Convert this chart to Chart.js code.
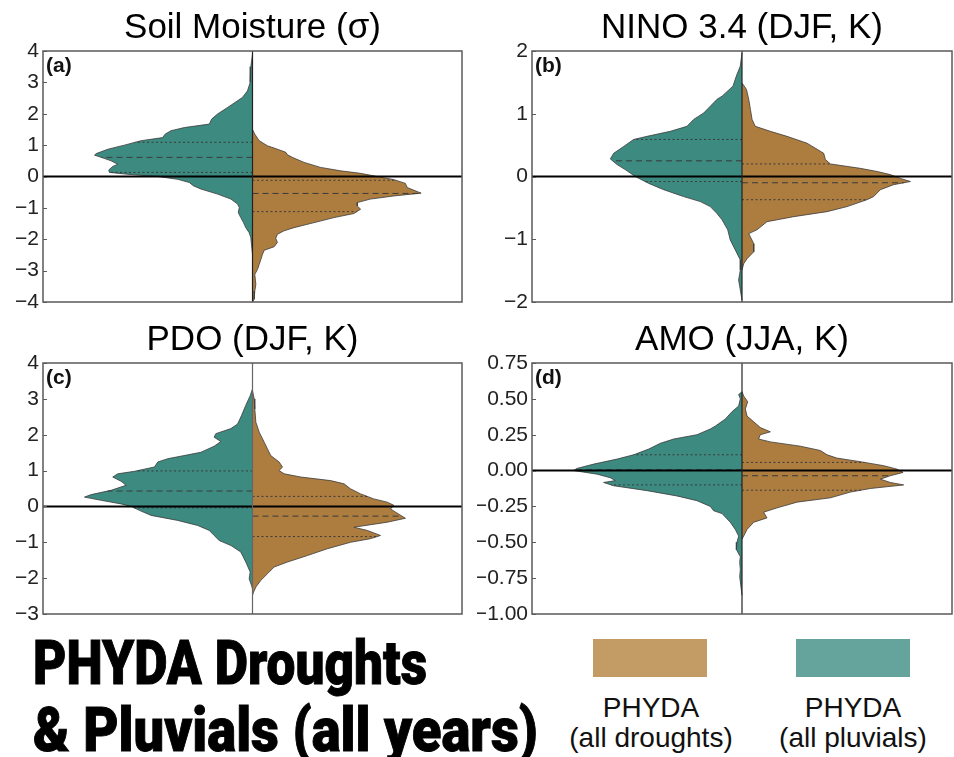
<!DOCTYPE html>
<html>
<head>
<meta charset="utf-8">
<script src="https://cdn.jsdelivr.net/npm/chart.js@4.4.0/dist/chart.umd.min.js"></script>
<style>
  body { margin: 0; background: #fff; width: 954px; height: 757px; position: relative; overflow: hidden; font-family: 'Liberation Sans', Arial, sans-serif; }
  .panel { position: absolute; }
  .big { position: absolute; left: 33px; font-family: Roboto, 'DejaVu Sans', sans-serif; font-weight: 900; font-size: 62px; line-height: 62px; white-space: nowrap; color: #000; transform-origin: 0 0; display: inline-block; -webkit-text-stroke: 1px #000; }
  .box { position: absolute; top: 639px; width: 114px; height: 38px; }
  .leg { position: absolute; width: 220px; text-align: center; font-size: 28px; line-height: 30px; color: #111; }
</style>
</head>
<body>
<div class="panel" style="left:0;top:0"><canvas id="chartA" width="477" height="314"></canvas></div>
<div class="panel" style="left:477px;top:0"><canvas id="chartB" width="477" height="314"></canvas></div>
<div class="panel" style="left:0;top:310px"><canvas id="chartC" width="477" height="316"></canvas></div>
<div class="panel" style="left:477px;top:310px"><canvas id="chartD" width="477" height="316"></canvas></div>

<span class="big" id="big1" style="top:632px">PHYDA Droughts</span>
<span class="big" id="big2" style="top:699px">&amp; Pluvials (all years)</span>

<div class="box" style="left:593px;background:#c29c64"></div>
<div class="box" style="left:796px;background:#64a49d"></div>
<div class="leg" style="left:541px;top:693px">PHYDA<br>(all droughts)</div>
<div class="leg" style="left:743px;top:693px">PHYDA<br>(all pluvials)</div>

<script>
// violin outlines: value (y) and half-width (fraction of the panel half width)
const soilPluvialY = [3.9, 3.5, 3.0, 2.73, 2.52, 2.2, 1.99, 1.83, 1.67, 1.56, 1.46, 1.35, 1.24, 1.14, 1.0, 0.87, 0.73, 0.68, 0.61, 0.5, 0.39, 0.32, 0.21, 0.13, 0.07, 0, -0.09, -0.19, -0.3, -0.4, -0.56, -0.72, -0.88, -0.99, -1.15, -1.31, -1.47, -1.63, -1.79, -1.95, -2.16, -2.48];
const soilPluvialW = [0, 0.008, 0.011, 0.024, 0.048, 0.119, 0.167, 0.195, 0.206, 0.325, 0.389, 0.417, 0.429, 0.532, 0.611, 0.69, 0.746, 0.754, 0.722, 0.675, 0.643, 0.667, 0.686, 0.683, 0.595, 0.452, 0.357, 0.302, 0.281, 0.246, 0.167, 0.103, 0.071, 0.063, 0.068, 0.056, 0.043, 0.032, 0.016, 0.008, 0.005, 0];
const soilDroughtY = [1.5, 1.35, 1.14, 0.98, 0.87, 0.77, 0.69, 0.61, 0.45, 0.29, 0.18, 0.1, 0, -0.1, -0.22, -0.35, -0.48, -0.53, -0.62, -0.72, -0.83, -0.94, -1.04, -1.18, -1.31, -1.47, -1.63, -1.73, -1.84, -1.97, -2.1, -2.24, -2.35, -2.48, -2.64, -2.8, -2.96, -3.12, -3.44, -3.65, -3.91, -4.0];
const soilDroughtW = [0, 0.011, 0.032, 0.071, 0.119, 0.159, 0.167, 0.19, 0.246, 0.325, 0.421, 0.516, 0.595, 0.675, 0.73, 0.738, 0.786, 0.805, 0.675, 0.563, 0.5, 0.5, 0.516, 0.484, 0.389, 0.294, 0.198, 0.151, 0.119, 0.111, 0.119, 0.103, 0.056, 0.048, 0.04, 0.032, 0.024, 0.011, 0.016, 0.011, 0.008, 0];

const ninoPluvialY = [1.97, 1.76, 1.6, 1.44, 1.28, 1.23, 1.12, 1.01, 0.91, 0.8, 0.72, 0.64, 0.59, 0.48, 0.37, 0.28, 0.19, 0.11, 0, -0.11, -0.21, -0.32, -0.4, -0.48, -0.59, -0.69, -0.85, -1.01, -1.17, -1.33, -1.49, -1.65, -1.81, -1.97];
const ninoPluvialW = [0, 0.008, 0.027, 0.043, 0.095, 0.119, 0.151, 0.183, 0.23, 0.262, 0.341, 0.452, 0.516, 0.563, 0.611, 0.627, 0.595, 0.556, 0.508, 0.444, 0.373, 0.278, 0.198, 0.151, 0.119, 0.095, 0.068, 0.056, 0.032, 0.008, 0.008, 0.016, 0.008, 0];
const ninoDroughtY = [1.49, 1.39, 1.23, 1.07, 0.91, 0.8, 0.72, 0.64, 0.53, 0.37, 0.27, 0.2, 0.13, 0.08, 0.03, -0.03, -0.08, -0.13, -0.21, -0.32, -0.37, -0.48, -0.56, -0.64, -0.72, -0.85, -0.91, -1.07, -1.2, -1.31, -1.39, -1.49];
const ninoDroughtW = [0, 0.021, 0.032, 0.04, 0.048, 0.063, 0.135, 0.214, 0.31, 0.389, 0.397, 0.421, 0.563, 0.643, 0.706, 0.754, 0.802, 0.722, 0.659, 0.627, 0.595, 0.5, 0.405, 0.246, 0.119, 0.071, 0.032, 0.056, 0.056, 0.024, 0.008, 0];

const pdoPluvialY = [3.28, 3.09, 2.82, 2.54, 2.3, 2.17, 2.03, 1.93, 1.81, 1.68, 1.51, 1.33, 1.24, 1.1, 0.98, 0.91, 0.82, 0.7, 0.59, 0.45, 0.33, 0.26, 0.17, 0.07, 0, -0.11, -0.25, -0.39, -0.53, -0.67, -0.81, -0.95, -1.09, -1.27, -1.55, -1.83, -2.02, -2.2, -2.3];
const pdoPluvialW = [0, 0.011, 0.032, 0.052, 0.071, 0.103, 0.175, 0.183, 0.151, 0.183, 0.246, 0.405, 0.452, 0.468, 0.563, 0.643, 0.667, 0.627, 0.603, 0.675, 0.77, 0.802, 0.722, 0.627, 0.579, 0.54, 0.484, 0.357, 0.262, 0.206, 0.183, 0.159, 0.103, 0.056, 0.032, 0.011, 0.016, 0.005, 0];
const pdoDroughtY = [3.23, 3.0, 2.72, 2.35, 2.07, 1.79, 1.61, 1.42, 1.24, 1.1, 1.0, 0.91, 0.82, 0.72, 0.63, 0.49, 0.35, 0.21, 0.12, 0.03, -0.07, -0.16, -0.33, -0.44, -0.58, -0.67, -0.81, -0.9, -1.0, -1.18, -1.37, -1.55, -1.69, -1.88, -2.06, -2.25, -2.39, -2.48];
const pdoDroughtW = [0, 0.008, 0.011, 0.016, 0.032, 0.056, 0.071, 0.087, 0.127, 0.143, 0.127, 0.151, 0.23, 0.373, 0.437, 0.468, 0.516, 0.579, 0.643, 0.675, 0.659, 0.683, 0.73, 0.643, 0.484, 0.548, 0.611, 0.563, 0.468, 0.357, 0.262, 0.167, 0.103, 0.071, 0.04, 0.016, 0.005, 0];

const amoPluvialY = [0.55, 0.53, 0.5, 0.45, 0.41, 0.36, 0.31, 0.29, 0.25, 0.22, 0.19, 0.15, 0.11, 0.08, 0.045, 0.015, 0, -0.025, -0.05, -0.07, -0.083, -0.106, -0.14, -0.177, -0.21, -0.25, -0.28, -0.3, -0.36, -0.41, -0.457, -0.5, -0.55, -0.6, -0.64, -0.69, -0.74, -0.81, -0.87];
const amoPluvialW = [0, 0.016, 0.008, 0.016, 0.048, 0.079, 0.127, 0.151, 0.214, 0.325, 0.389, 0.444, 0.516, 0.595, 0.706, 0.786, 0.802, 0.69, 0.627, 0.603, 0.659, 0.611, 0.452, 0.31, 0.214, 0.151, 0.135, 0.095, 0.056, 0.032, 0.016, 0.024, 0.027, 0.008, 0.011, 0.008, 0.011, 0.005, 0];
const amoDroughtY = [0.55, 0.52, 0.48, 0.43, 0.38, 0.34, 0.3, 0.27, 0.25, 0.22, 0.2, 0.17, 0.14, 0.11, 0.087, 0.062, 0.034, 0.01, -0.013, -0.036, -0.06, -0.083, -0.1, -0.125, -0.15, -0.19, -0.22, -0.26, -0.29, -0.33, -0.36, -0.41, -0.457, -0.48];
const amoDroughtW = [0, 0.008, 0.027, 0.016, 0.024, 0.056, 0.087, 0.135, 0.087, 0.079, 0.135, 0.278, 0.373, 0.405, 0.452, 0.563, 0.675, 0.738, 0.767, 0.706, 0.659, 0.706, 0.77, 0.611, 0.516, 0.421, 0.262, 0.167, 0.103, 0.119, 0.056, 0.024, 0.008, 0];

// quartiles [q1, median, q3]
const soilPluvialQ = [0.13, 0.61, 1.09];
const soilDroughtQ = [-1.12, -0.54, -0.12];
const ninoPluvialQ = [-0.08, 0.25, 0.59];
const ninoDroughtQ = [-0.37, -0.1, 0.2];
const pdoPluvialQ = [-0.04, 0.43, 0.99];
const pdoDroughtQ = [-0.84, -0.27, 0.28];
const amoPluvialQ = [-0.1, 0.005, 0.11];
const amoDroughtQ = [-0.137, -0.036, 0.057];

// y tick labels
const soilTicks = [-4, -3, -2, -1, 0, 1, 2, 3, 4];
const ninoTicks = [-2, -1, 0, 1, 2];
const pdoTicks = [-3, -2, -1, 0, 1, 2, 3, 4];
const amoTicks = [-1, -0.75, -0.5, -0.25, 0, 0.25, 0.5, 0.75];

const titles = ['Soil Moisture (\u03c3)', 'NINO 3.4 (DJF, K)', 'PDO (DJF, K)', 'AMO (JJA, K)'];
const panelLabels = ['(a)', '(b)', '(c)', '(d)'];

const pluvialColor = '#3d8a80';
const droughtColor = '#ad7d40';
const fontFamily = "'Liberation Sans', Arial, sans-serif";

// width of a violin at value q (linear between the read points)
function widthAt(ys, ws, q) {
  for (let i = 0; i < ys.length - 1; i++) {
    const a = ys[i], b = ys[i + 1];
    if ((q <= a && q >= b) || (q >= a && q <= b)) {
      const t = a === b ? 0 : (q - a) / (b - a);
      return ws[i] + t * (ws[i + 1] - ws[i]);
    }
  }
  return 0;
}

function minus(s) { return String(s).replace('-', '\u2212'); }

// frame, inward ticks and panel letter
const panelDecor = {
  id: 'panelDecor',
  afterDatasetsDraw(chart, args, opts) {
    const { ctx, chartArea: a } = chart;
    const y = chart.scales.y;
    ctx.save();
    ctx.strokeStyle = '#5a5a5a';
    ctx.lineWidth = 1.5;
    ctx.strokeRect(a.left, a.top, a.right - a.left, a.bottom - a.top);
    ctx.lineWidth = 1;
    y.ticks.forEach(t => {
      const py = Math.round(y.getPixelForValue(t.value)) + 0.5;
      ctx.beginPath();
      ctx.moveTo(a.left, py);
      ctx.lineTo(a.left + 4, py);
      ctx.stroke();
    });
    ctx.fillStyle = '#111';
    ctx.font = 'bold 21px ' + fontFamily;
    ctx.textBaseline = 'top';
    ctx.textAlign = 'left';
    ctx.fillText(opts.label, a.left + 3, a.top + 5);
    ctx.restore();
  }
};

function makePanel(id, p) {
  const last = p.ticks.length - 1;
  const line = (data, color, width, dash) => ({
    data, borderColor: color, borderWidth: width, borderDash: dash || [],
    showLine: true, pointRadius: 0, fill: false, tension: 0
  });
  const datasets = [];
  datasets.push(line([{ x: 0, y: p.ticks[0] }, { x: 0, y: p.ticks[last] }], p.centerColor, 1.2));
  datasets.push(line([{ x: -1, y: 0 }, { x: 1, y: 0 }], '#000', 2));
  p.pluvialQ.forEach((q, i) => {
    const w = widthAt(p.pluvialY, p.pluvialW, q);
    datasets.push(line([{ x: 0, y: q }, { x: -w, y: q }], '#3a3a3a', 1, i === 1 ? [6, 4] : [2, 2.5]));
  });
  p.droughtQ.forEach((q, i) => {
    const w = widthAt(p.droughtY, p.droughtW, q);
    datasets.push(line([{ x: 0, y: q }, { x: w, y: q }], '#3a3a3a', 1, i === 1 ? [6, 4] : [2, 2.5]));
  });
  const violin = (ys, ws, sign, color) => ({
    data: ys.map((y, i) => ({ x: sign * ws[i], y })),
    borderColor: '#3a3a3a', borderWidth: 0.8, backgroundColor: color,
    showLine: true, pointRadius: 0, fill: 'shape', tension: 0
  });
  datasets.push(violin(p.pluvialY, p.pluvialW, -1, pluvialColor));
  datasets.push(violin(p.droughtY, p.droughtW, 1, droughtColor));

  new Chart(document.getElementById(id), {
    type: 'scatter',
    data: { datasets },
    plugins: [panelDecor],
    options: {
      responsive: false,
      animation: false,
      events: [],
      layout: { padding: { left: 0, right: p.padRight, top: 0, bottom: p.padBottom } },
      plugins: {
        legend: { display: false },
        tooltip: { enabled: false },
        panelDecor: { label: p.label },
        title: {
          display: true, text: p.title, fullSize: false, color: '#000',
          font: { family: fontFamily, size: 35, weight: 'normal', lineHeight: 1.2 },
          padding: { top: p.titleTop, bottom: p.titleBottom }
        }
      },
      scales: {
        x: { type: 'linear', display: false, min: -1, max: 1 },
        y: {
          type: 'linear', min: p.ticks[0], max: p.ticks[last],
          afterFit: s => { s.width = p.axisWidth; s.paddingTop = 0; s.paddingBottom = 0; },
          afterBuildTicks: s => { s.ticks = p.ticks.map(v => ({ value: v })); },
          grid: { display: false, drawTicks: false },
          border: { display: false },
          ticks: {
            padding: 4, color: '#222',
            font: { family: fontFamily, size: 21 },
            callback: v => minus(p.decimals ? v.toFixed(p.decimals) : v)
          }
        }
      }
    }
  });
}

makePanel('chartA', {
  title: titles[0], label: panelLabels[0], ticks: soilTicks, decimals: 0,
  pluvialY: soilPluvialY, pluvialW: soilPluvialW, droughtY: soilDroughtY, droughtW: soilDroughtW,
  pluvialQ: soilPluvialQ, droughtQ: soilDroughtQ,
  axisWidth: 43, padRight: 15, padBottom: 12, titleTop: 7, titleBottom: 2, centerColor: '#222'
});
makePanel('chartB', {
  title: titles[1], label: panelLabels[1], ticks: ninoTicks, decimals: 0,
  pluvialY: ninoPluvialY, pluvialW: ninoPluvialW, droughtY: ninoDroughtY, droughtW: ninoDroughtW,
  pluvialQ: ninoPluvialQ, droughtQ: ninoDroughtQ,
  axisWidth: 55, padRight: 2, padBottom: 12, titleTop: 7, titleBottom: 2, centerColor: '#222'
});
makePanel('chartC', {
  title: titles[2], label: panelLabels[2], ticks: pdoTicks, decimals: 0,
  pluvialY: pdoPluvialY, pluvialW: pdoPluvialW, droughtY: pdoDroughtY, droughtW: pdoDroughtW,
  pluvialQ: pdoPluvialQ, droughtQ: pdoDroughtQ,
  axisWidth: 43, padRight: 15, padBottom: 12, titleTop: 9.5, titleBottom: 1.5, centerColor: '#666'
});
makePanel('chartD', {
  title: titles[3], label: panelLabels[3], ticks: amoTicks, decimals: 2,
  pluvialY: amoPluvialY, pluvialW: amoPluvialW, droughtY: amoDroughtY, droughtW: amoDroughtW,
  pluvialQ: amoPluvialQ, droughtQ: amoDroughtQ,
  axisWidth: 55, padRight: 2, padBottom: 12, titleTop: 9.5, titleBottom: 1.5, centerColor: '#222'
});

// squeeze the heavy caption into the width it has in the picture
function fitBig(id, target) {
  const el = document.getElementById(id);
  const w = el.getBoundingClientRect().width;
  el.style.transform = 'scaleX(' + (target / w) + ')';
}
fitBig('big1', 394);
fitBig('big2', 505);
</script>
</body>
</html>
